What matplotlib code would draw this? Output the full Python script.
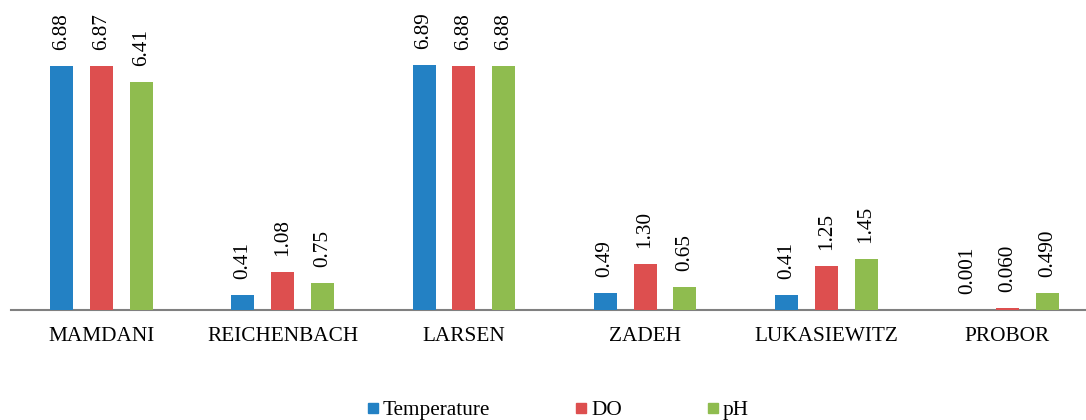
import numpy as np
import matplotlib.pyplot as plt
from matplotlib.lines import Line2D

plt.rcParams['font.family'] = ['Liberation Serif', 'DejaVu Serif']

methods = ['MAMDANI', 'REICHENBACH', 'LARSEN', 'ZADEH', 'LUKASIEWITZ', 'PROBOR']
temperature = [6.88, 0.41, 6.89, 0.49, 0.41, 0.001]
do = [6.87, 1.08, 6.88, 1.30, 1.25, 0.060]
ph = [6.41, 0.75, 6.88, 0.65, 1.45, 0.490]
decimals = [2, 2, 2, 2, 2, 3]

series = [('Temperature', temperature, '#2381c4'),
          ('DO', do, '#dd4f4f'),
          ('pH', ph, '#8fbc4f')]

W, H = 1086, 420
fig = plt.figure(figsize=(W / 100, H / 100), dpi=100)
# axes slightly wider than figure so category spacing matches
ax = fig.add_axes([11 / W, (H - 310) / H, 1087 / W, 8.5 * 35.5 / H])

x = np.arange(len(methods))
width = 0.127
offset = 0.22

for i, (name, vals, color) in enumerate(series):
    pos = x + (i - 1) * offset
    ax.bar(pos, vals, width, color=color, linewidth=0, zorder=2)
    for xp, v, d in zip(pos, vals, decimals):
        ax.annotate(f'{v:.{d}f}', (xp, v), xytext=(0, 11.5), textcoords='offset points',
                    rotation=90, ha='center', va='bottom', fontsize=15.3)

ax.set_xlim(-0.5, len(methods) - 0.5)
ax.set_ylim(0, 8.5)
ax.set_xticks(x)
ax.set_xticklabels(methods, fontsize=15.3)
ax.tick_params(axis='x', length=0, pad=12)
ax.set_yticks([])
for s in ['top', 'right', 'left']:
    ax.spines[s].set_visible(False)
ax.spines['bottom'].set_color('#808080')
ax.spines['bottom'].set_linewidth(1.5)
ax.spines['bottom'].set_zorder(1)

handles = [Line2D([], [], marker='s', linestyle='none', markersize=7.9,
                  markerfacecolor=c, markeredgecolor=c) for _, _, c in series]
fig.legend(handles, [n for n, _, _ in series], loc='center left',
           bbox_to_anchor=(367 / W, 10 / H), ncol=3, frameon=False,
           fontsize=15.3, handlelength=0.55, handletextpad=0.2,
           columnspacing=4.0, borderpad=0, borderaxespad=0)

fig.savefig('out.png', dpi=100)
